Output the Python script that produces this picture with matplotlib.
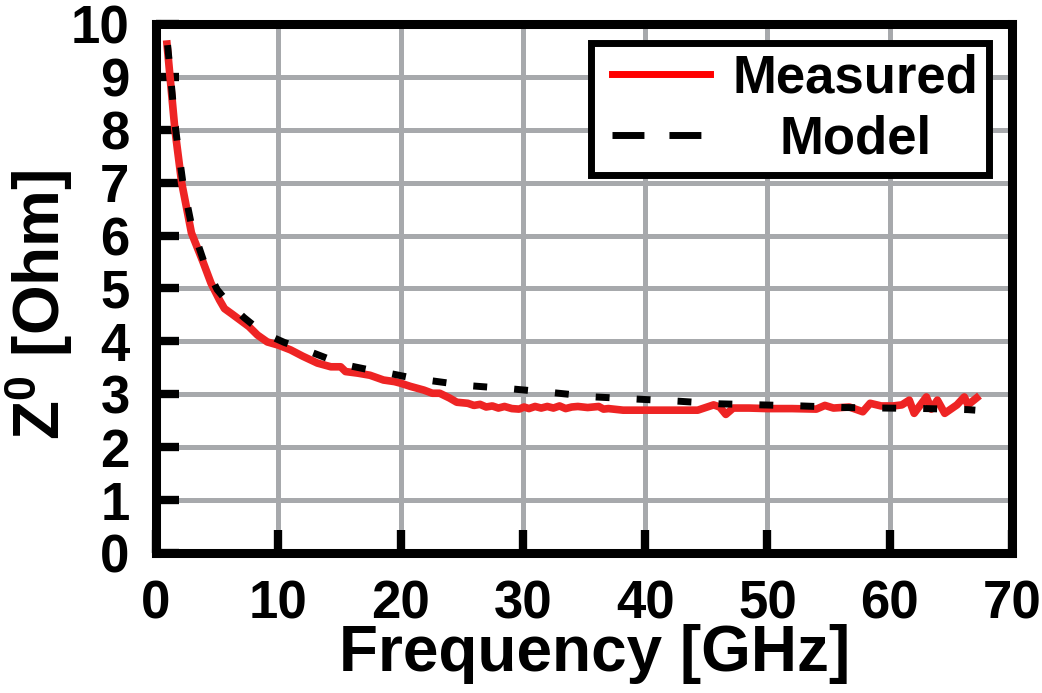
import matplotlib
matplotlib.use("Agg")
import matplotlib.pyplot as plt
from matplotlib.lines import Line2D
from matplotlib.legend_handler import HandlerLine2D

plt.rcParams["font.family"] = ["Liberation Sans", "DejaVu Sans"]
plt.rcParams["font.weight"] = "bold"
plt.rcParams["mathtext.fontset"] = "custom"
plt.rcParams["mathtext.bf"] = "Liberation Sans:bold"
plt.rcParams["mathtext.rm"] = "Liberation Sans:bold"
plt.rcParams["mathtext.default"] = "bf"

# measured Z0
meas_f = [0.9, 1.15, 1.55, 2.1, 2.9, 3.85, 4.5, 5.2, 5.6, 6.2, 6.9, 7.6, 8.3, 9.1,
          10.0, 11.0, 12.0, 13.2, 14.3, 15.1, 15.5, 16.5, 17.5, 18.6, 19.5, 20.0,
          20.8, 21.9, 22.6, 23.2, 24.0, 24.6, 25.5, 26.0, 26.5, 27.0, 27.5, 28.0,
          28.5, 29.1, 29.7, 30.1, 30.5, 31.0, 31.5, 32.0, 32.5, 33.0, 33.5, 34.0,
          34.5, 35.3, 36.2, 36.6, 37.0, 38.2, 40.0, 42.0, 44.3, 45.6, 46.1, 46.6,
          47.2, 48.5, 50.0, 52.0, 54.0, 54.7, 55.4, 56.7, 57.8, 58.4, 59.3, 60.3,
          61.0, 61.6, 62.0, 63.0, 63.4, 63.9, 64.5, 65.5, 66.1, 66.4, 67.1]
meas_z = [9.62, 9.0, 8.0, 7.0, 6.05, 5.5, 5.1, 4.78, 4.62, 4.52, 4.40, 4.28, 4.12, 3.99,
          3.93, 3.84, 3.72, 3.59, 3.52, 3.52, 3.43, 3.40, 3.36, 3.27, 3.24, 3.21,
          3.15, 3.08, 3.02, 3.02, 2.93, 2.85, 2.83, 2.79, 2.81, 2.76, 2.78, 2.74,
          2.77, 2.73, 2.72, 2.76, 2.73, 2.77, 2.74, 2.77, 2.74, 2.78, 2.73, 2.76,
          2.77, 2.75, 2.77, 2.72, 2.73, 2.70, 2.70, 2.70, 2.70, 2.80, 2.76, 2.62,
          2.74, 2.74, 2.73, 2.73, 2.72, 2.79, 2.74, 2.76, 2.67, 2.83, 2.78, 2.78,
          2.80, 2.89, 2.64, 2.95, 2.72, 2.89, 2.64, 2.80, 2.95, 2.80, 2.93]

# model Z0
model_f = [0.95, 1.2, 1.55, 2.2, 2.9, 4.0, 5.0, 5.9, 7.2, 8.75, 10.5, 12.2, 14.0, 15.6,
           17.5, 19.0, 20.5, 22.4, 24.0, 25.8, 29.2, 32.5, 35.9, 39.3, 42.7, 46.1,
           49.5, 52.8, 56.3, 59.6, 63.0, 66.4, 67.0]
model_z = [9.6, 9.0, 8.1, 7.0, 6.2, 5.45, 4.98, 4.73, 4.45, 4.16, 3.98, 3.84, 3.68, 3.55,
           3.46, 3.40, 3.33, 3.26, 3.21, 3.16, 3.10, 3.03, 2.95, 2.91, 2.87, 2.82,
           2.80, 2.78, 2.75, 2.74, 2.73, 2.71, 2.70]

x_ticks = [0, 10, 20, 30, 40, 50, 60, 70]
y_ticks = [0, 1, 2, 3, 4, 5, 6, 7, 8, 9, 10]

fig = plt.figure(figsize=(10.42, 6.93), dpi=100)
ax = fig.add_axes([0.1497, 0.2020, 0.8215, 0.7634])

ax.plot(meas_f, meas_z, color="#ee2424", linewidth=5.5, zorder=3,
        solid_joinstyle="round")
ax.plot(model_f, model_z, color="black", linewidth=5, dashes=(2.0, 3.9),
        dash_capstyle="butt", zorder=4)

ax.set_xlim(0, 70)
ax.set_ylim(0, 10)
ax.set_xticks(x_ticks)
ax.set_yticks(y_ticks)
ax.grid(True, color="#a7a9ac", linewidth=3.6, zorder=0)
ax.set_axisbelow(True)

for s in ax.spines.values():
    s.set_linewidth(6.5)
    s.set_zorder(6)
ax.tick_params(direction="in", length=16.5, width=6, labelsize=38, pad=19,
               color="black")

ax.set_xlabel("Frequency [GHz]", fontsize=46, fontweight="bold")
ax.set_ylabel("Z$^0$ [Ohm]", fontsize=46, fontweight="bold")
ax.xaxis.set_label_coords(0.512, -0.135)
ax.yaxis.set_label_coords(-0.095, 0.469)

handles = [
    Line2D([], [], color="red", linewidth=5),
    Line2D([], [], color="black", linewidth=5, dashes=(4.6, 3.6),
           dash_capstyle="butt"),
]
leg = ax.legend(handles, ["Measured", "Model"], loc="upper right",
                bbox_to_anchor=(0.9731, 0.9641), borderaxespad=0,
                fontsize=38, handlelength=2.07, handletextpad=0.42,
                borderpad=0.2, labelspacing=0.2, fancybox=False,
                framealpha=1, edgecolor="black",
                handler_map={Line2D: HandlerLine2D(xpad=0.21)})
leg.get_frame().set_linewidth(5)
leg.set_zorder(7)

# centre the legend labels on each other
fig.canvas.draw()
r = fig.canvas.get_renderer()
txts = leg.get_texts()
w0 = txts[0].get_window_extent(r).width
w1 = txts[1].get_window_extent(r).width
txts[1].set_position(((w0 - w1) / 2, 0))

fig.savefig("out.png", dpi=100)
